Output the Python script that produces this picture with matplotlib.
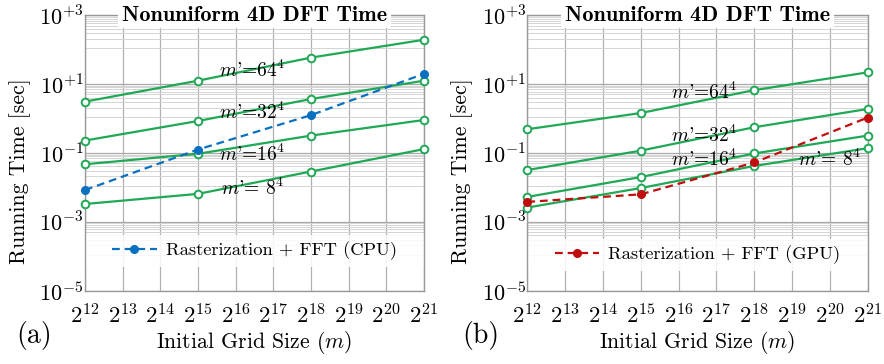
import numpy as np
import matplotlib
matplotlib.use("Agg")
import matplotlib.pyplot as plt
from matplotlib.ticker import FixedLocator, FixedFormatter, NullFormatter
from matplotlib.patches import Rectangle

plt.rcParams['font.family'] = ['cmr10']
plt.rcParams['mathtext.fontset'] = 'cm'
plt.rcParams['axes.formatter.use_mathtext'] = True

# ---------------- data ----------------
grid_sizes = [2**12, 2**15, 2**18, 2**21]
x_tick_exps = list(range(12, 22))
y_tick_exps = [-5, -3, -1, 1, 3]
y_tick_labels = [r"$10^{-5}$", r"$10^{-3}$", r"$10^{-1}$", r"$10^{+1}$", r"$10^{+3}$"]

series_names = ["m64", "m32", "m16", "m8"]
cpu_nudft = {
    "m64": [3.1, 12.6, 59, 195],
    "m32": [0.23, 0.85, 3.7, 12.6],
    "m16": [0.047, 0.095, 0.32, 0.91],
    "m8": [0.0033, 0.0065, 0.029, 0.13],
}
cpu_fft = [0.0084, 0.126, 1.26, 20]

gpu_nudft = {
    "m64": [0.49, 1.45, 6.7, 22],
    "m32": [0.032, 0.117, 0.56, 1.9],
    "m16": [0.0053, 0.020, 0.097, 0.32],
    "m8": [0.0026, 0.0096, 0.042, 0.138],
}
gpu_fft = [0.0038, 0.0063, 0.053, 1.07]

label_text = {
    "m64": r"$m$'=$64^4$",
    "m32": r"$m$'=$32^4$",
    "m16": r"$m$'=$16^4$",
    "m8": r"$m$'= $8^4$",
}
# label positions (x exponent, log10 y)
cpu_label_pos = {"m64": (16.43, 1.41), "m32": (16.43, 0.19), "m16": (16.43, -1.03), "m8": (16.46, -2.02)}
gpu_label_pos = {"m64": (16.67, 0.77), "m32": (16.67, -0.48), "m16": (16.67, -1.18), "m8": (19.98, -1.18)}

title = "Nonuniform 4D DFT Time"
xlabel = r"Initial Grid Size ($m$)"
ylabel = "Running Time [sec]"

GREEN = "#1fa855"
BLUE = "#0a70c0"
RED = "#c00d0d"

fig = plt.figure(figsize=(8.84, 3.64), dpi=100)
axL = fig.add_axes([85/884, 1-290.7/364, (424-85)/884, 275.4/364])
axR = fig.add_axes([527.3/884, 1-290.7/364, (867.7-527.3)/884, 275.4/364])


def setup(ax):
    ax.set_xscale('log', base=2)
    ax.set_yscale('log')
    ax.set_xlim(2**12, 2**21)
    ax.set_ylim(1e-5, 1e3)
    ax.xaxis.set_major_locator(FixedLocator([2.0**e for e in x_tick_exps]))
    ax.xaxis.set_major_formatter(FixedFormatter([r"$2^{%d}$" % e for e in x_tick_exps]))
    ax.xaxis.set_minor_locator(FixedLocator([]))
    ax.yaxis.set_major_locator(FixedLocator([10.0**e for e in y_tick_exps]))
    ax.yaxis.set_major_formatter(FixedFormatter(y_tick_labels))
    minors = []
    for a, b in zip(y_tick_exps[:-1], y_tick_exps[1:]):
        lo, hi = 10.0**a, 10.0**b
        minors += [lo + k*(hi-lo)/10 for k in range(1, 10)]
    ax.yaxis.set_minor_locator(FixedLocator(minors))
    ax.yaxis.set_minor_formatter(NullFormatter())
    ax.tick_params(which='both', length=0)
    ax.tick_params(axis='x', labelsize=16.5, pad=9)
    ax.tick_params(axis='y', labelsize=16, pad=1)
    ax.grid(True, which='major', axis='x', color='#b0b0b0', lw=0.9)
    ax.grid(True, which='major', axis='y', color='#a8a8a8', lw=0.9)
    ax.grid(True, which='minor', axis='y', color='#d4d4d4', lw=0.7)
    ax.set_axisbelow(True)
    for s in ax.spines.values():
        s.set_color('#999999')
        s.set_linewidth(1.0)
    ax.set_xlabel(xlabel, fontsize=15.7, va='center')
    ax.xaxis.set_label_coords(0.5, -(343-290.7)/275.4)
    ax.set_ylabel(ylabel, fontsize=15.7, va='center')
    ax.yaxis.set_label_coords(-0.19, 0.435)
    ax.text(0.5, 1.0, title, transform=ax.transAxes, ha='center', va='center',
            fontsize=16, family='cmb10', zorder=10,
            bbox=dict(facecolor='white', edgecolor='none', pad=2.5))


def draw(ax, nudft, fft, fft_color, fft_label, label_pos, leg_y):
    setup(ax)
    ax.add_patch(Rectangle((0, leg_y - 0.058), 1, 0.116, transform=ax.transAxes,
                           facecolor='white', edgecolor='none', alpha=0.85, zorder=1.5))
    for name in series_names:
        ax.plot(grid_sizes, nudft[name], color=GREEN, lw=1.6, marker='o', ms=5.5,
                mfc='white', mec=GREEN, mew=1.4, zorder=3, clip_on=False)
        xe, ye = label_pos[name]
        ax.text(2.0**xe, 10.0**ye, label_text[name], ha='center', va='center',
                fontsize=14, zorder=4)
    ln, = ax.plot(grid_sizes, fft, color=fft_color, lw=1.6, ls=(0, (3.5, 2.2)), marker='o',
                  ms=5.5, mfc=fft_color, mec=fft_color, zorder=3.5, clip_on=False,
                  label=fft_label)
    leg = ax.legend(handles=[ln], loc='center', bbox_to_anchor=(0.5, leg_y), frameon=False,
                    fontsize=13.3, handlelength=2.4, handletextpad=0.5, borderpad=0.2)
    leg.set_zorder(5)


draw(axL, cpu_nudft, cpu_fft, BLUE, "Rasterization + FFT (CPU)", cpu_label_pos, 0.144)
draw(axR, gpu_nudft, gpu_fft, RED, "Rasterization + FFT (GPU)", gpu_label_pos, 0.13)

fig.text(34/884, 1-336/364, "(a)", fontsize=20, ha='center', va='center')
fig.text(481/884, 1-336/364, "(b)", fontsize=20, ha='center', va='center')

fig.savefig("out.png", dpi=100)
